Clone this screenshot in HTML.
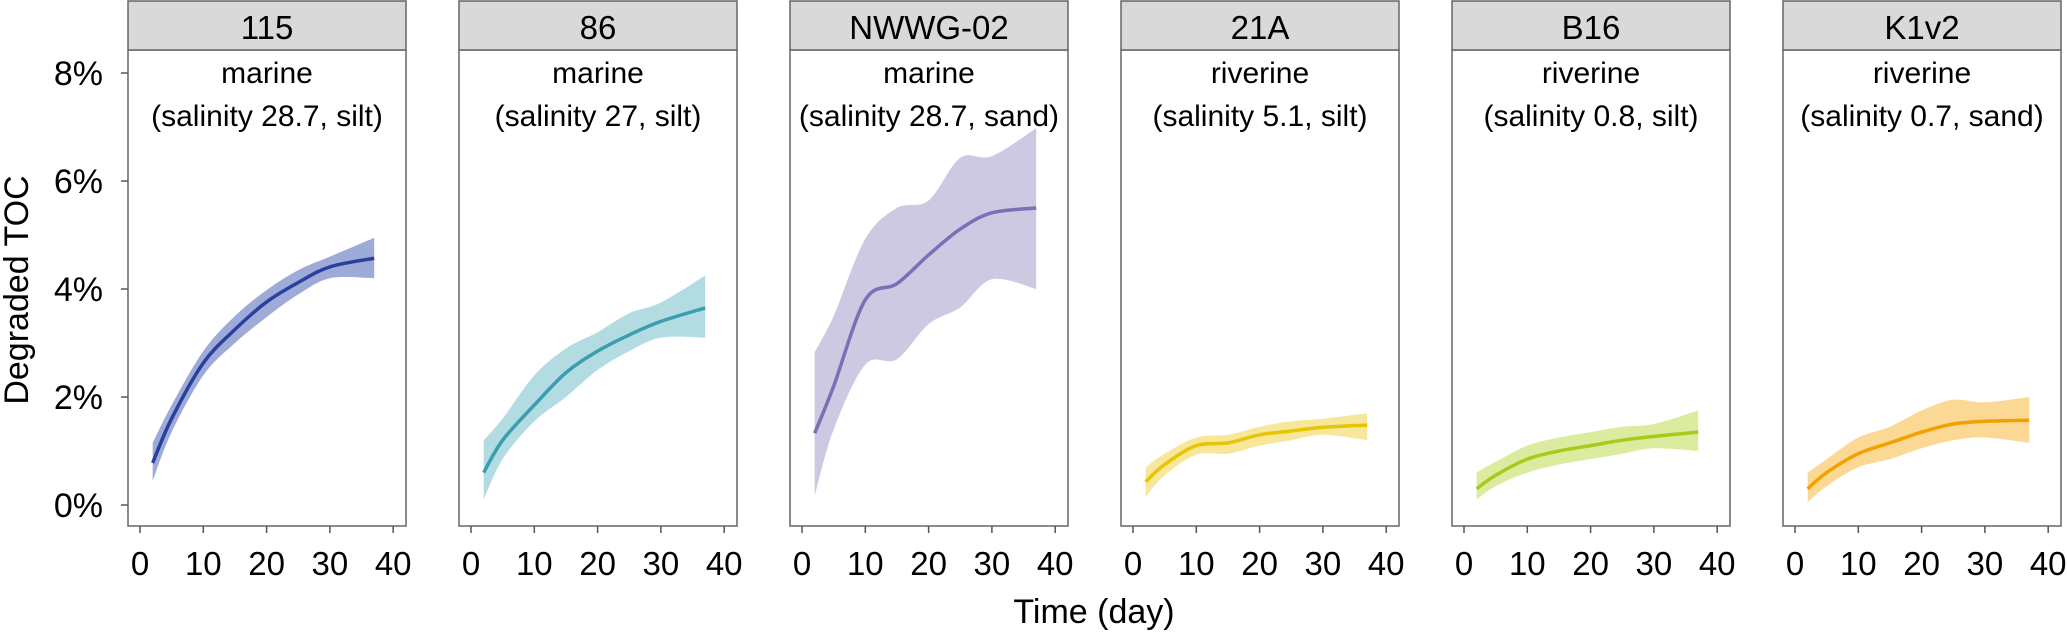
<!DOCTYPE html>
<html><head><meta charset="utf-8"><style>
html,body{margin:0;padding:0;background:#fff;}
svg{display:block;font-family:"Liberation Sans",Arial,sans-serif;}
</style></head><body>
<svg id="chart" width="2067" height="635" viewBox="0 0 2067 635"></svg>
<script>
const panelIds = ["115","86","NWWG-02","21A","B16","K1v2"];
const panelTypes = ["marine","marine","marine","riverine","riverine","riverine"];
const panelDescs = ["(salinity 28.7, silt)","(salinity 27, silt)","(salinity 28.7, sand)","(salinity 5.1, silt)","(salinity 0.8, silt)","(salinity 0.7, sand)"];
const days = [2,5,10,15,20,25,30,37];
const mid115 = [0.78,1.6,2.63,3.25,3.76,4.12,4.41,4.57];
const lo115  = [0.45,1.35,2.4,3.0,3.48,3.9,4.2,4.2];
const hi115  = [1.15,1.85,2.85,3.5,3.98,4.35,4.6,4.95];
const mid86 = [0.6,1.2,1.85,2.45,2.85,3.15,3.4,3.65];
const lo86  = [0.1,0.85,1.55,2.0,2.5,2.85,3.1,3.1];
const hi86  = [1.2,1.6,2.4,2.9,3.2,3.55,3.75,4.25];
const midNW = [1.33,2.2,3.8,4.1,4.63,5.11,5.41,5.5];
const loNW  = [0.17,1.4,2.6,2.7,3.35,3.66,4.18,4.0];
const hiNW  = [2.83,3.5,4.93,5.5,5.64,6.43,6.46,6.98];
const mid21A = [0.43,0.75,1.1,1.15,1.3,1.37,1.44,1.48];
const lo21A  = [0.15,0.55,0.93,0.95,1.1,1.2,1.3,1.2];
const hi21A  = [0.7,0.95,1.25,1.3,1.45,1.55,1.6,1.7];
const midB16 = [0.3,0.55,0.85,1.0,1.1,1.2,1.27,1.35];
const loB16  = [0.1,0.35,0.6,0.75,0.85,0.95,1.05,1.0];
const hiB16  = [0.6,0.8,1.1,1.25,1.35,1.45,1.5,1.75];
const midK1 = [0.3,0.6,0.95,1.15,1.35,1.5,1.55,1.57];
const loK1  = [0.05,0.35,0.7,0.85,1.05,1.2,1.25,1.15];
const hiK1  = [0.6,0.85,1.25,1.45,1.75,1.95,1.9,2.0];
const xTicks = [0,10,20,30,40];
const yTicks = [0,2,4,6,8];
const yTickLabels = ["0%","2%","4%","6%","8%"];

const mids=[mid115,mid86,midNW,mid21A,midB16,midK1];
const los=[lo115,lo86,loNW,lo21A,loB16,loK1];
const his=[hi115,hi86,hiNW,hi21A,hiB16,hiK1];
const lineCols=["#2b3f9c","#3a9db0","#7b6fb6","#e9c400","#a6cb1c","#f3a000"];
const bandCols=["#9eabd9","#b2dce2","#cdc9e2","#f6e79b","#dcec9f","#fbd995"];

const NS="http://www.w3.org/2000/svg";
const svg=document.getElementById('chart');
function mk(tag,attrs,parent){const e=document.createElementNS(NS,tag);for(const k in attrs)e.setAttribute(k,attrs[k]);(parent||svg).appendChild(e);return e;}
const PL=128, PERIOD=331, PW=278, TOP=50, BOT=526;
function yS(v){return 505-v*54;}
function xS(p,d){return PL+p*PERIOD+12+d*6.33;}
function smooth(pts){
  let s="M"+pts[0][0]+","+pts[0][1];
  for(let i=0;i<pts.length-1;i++){
    const p0=pts[Math.max(0,i-1)],p1=pts[i],p2=pts[i+1],p3=pts[Math.min(pts.length-1,i+2)];
    const c1=[p1[0]+(p2[0]-p0[0])/6,p1[1]+(p2[1]-p0[1])/6];
    const c2=[p2[0]-(p3[0]-p1[0])/6,p2[1]-(p3[1]-p1[1])/6];
    s+=" C"+c1[0]+","+c1[1]+" "+c2[0]+","+c2[1]+" "+p2[0]+","+p2[1];
  }
  return s;
}

// y axis
yTicks.forEach((v,i)=>{
  const t=mk('line',{x1:121,x2:PL,y1:yS(v),y2:yS(v),stroke:'#555','stroke-width':1.5});
  
  
  const l=mk('text',{x:103,y:yS(v)+12,'text-anchor':'end','font-size':34,fill:'#000'});
  l.textContent=yTickLabels[i];
  
  
});
const yt=mk('text',{x:0,y:0,'font-size':34,'text-anchor':'middle',transform:'translate(28,290) rotate(-90)'});
yt.textContent='Degraded TOC';


const xt=mk('text',{x:1094,y:623,'font-size':34,'text-anchor':'middle'});
xt.textContent='Time (day)';



panelIds.forEach((id,p)=>{
  const g=mk('g',{});
  
  
  const left=PL+p*PERIOD;
  const bg=mk('rect',{x:left,y:TOP,width:PW,height:BOT-TOP,fill:'#fff',stroke:'#666','stroke-width':1.5},g);
  
  
  const st=mk('rect',{x:left,y:1,width:PW,height:TOP-1,fill:'#d9d9d9',stroke:'#666','stroke-width':1.5},g);
  
  
  const stt=mk('text',{x:left+PW/2,y:39,'font-size':33,'text-anchor':'middle'},g);
  stt.textContent=id;
  
  
  const s1=mk('text',{x:left+PW/2,y:83,'font-size':30,'text-anchor':'middle'},g);
  s1.textContent=panelTypes[p];
  
  
  const s2=mk('text',{x:left+PW/2,y:126,'font-size':30,'text-anchor':'middle'},g);
  s2.textContent=panelDescs[p];
  
  
  // band
  const up=days.map((d,i)=>[xS(p,d),yS(his[p][i])]);
  const dn=days.map((d,i)=>[xS(p,d),yS(los[p][i])]).reverse();
  let dp=smooth(up)+" L"+dn[0][0]+","+dn[0][1]+" "+smooth(dn).slice(1)+" Z";
  const band=mk('path',{d:dp,fill:bandCols[p],stroke:'none'},g);
  
  
  const ln=mk('path',{d:smooth(days.map((d,i)=>[xS(p,d),yS(mids[p][i])])),fill:'none',stroke:lineCols[p],'stroke-width':3.5},g);
  
  
  xTicks.forEach(t=>{
    const tk=mk('line',{x1:xS(p,t),x2:xS(p,t),y1:BOT,y2:BOT+7,stroke:'#555','stroke-width':1.5},g);
    
    
    const tl=mk('text',{x:xS(p,t),y:575,'font-size':33,'text-anchor':'middle'},g);
    tl.textContent=String(t);
    
    
  });
});
</script>
</body></html>
